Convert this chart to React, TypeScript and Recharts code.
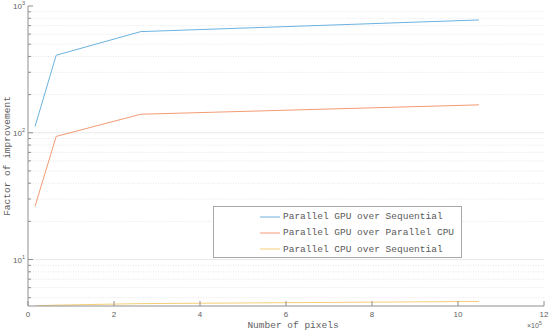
import { LineChart, Line, XAxis, YAxis, ReferenceLine, Legend } from 'recharts';

// image sizes: 128^2, 256^2, 512^2, 1024^2
const pixelCounts = [16384, 65536, 262144, 1048576];
const gpuOverSeq = [112, 409, 628, 776];
const gpuOverCpu = [26.3, 93.6, 140, 166];
const cpuOverSeq = [4.3, 4.37, 4.49, 4.67];

const xTicks = [0, 200000, 400000, 600000, 800000, 1000000, 1200000];
const yMajor = [10, 100, 1000];
const yMinor = [5, 6, 7, 8, 9, 20, 30, 40, 50, 60, 70, 80, 90, 200, 300, 400, 500, 600, 700, 800, 900];

const seriesNames = ['Parallel GPU over Sequential', 'Parallel GPU over Parallel CPU', 'Parallel CPU over Sequential'];
const seriesColors = ['#6cb2e0', '#f39b74', '#f6cf74'];

const data = pixelCounts.map((px, i) => ({
    px,
    gpuSeq: gpuOverSeq[i],
    gpuCpu: gpuOverCpu[i],
    cpuSeq: cpuOverSeq[i],
}));

const yMin = Math.min(...cpuOverSeq);

const sans = '"Liberation Sans", Arial, sans-serif';
const mono = '"Liberation Mono", "Courier New", monospace';
const axisColor = '#8f8f8f';
const textColor = '#5e5e5e';

const BottomTick = ({ x, y, payload }: any) => (
    <g>
        <line x1={x} x2={x} y1={y} y2={y - 5} stroke={axisColor} />
        <text x={x} y={y + 11} textAnchor="middle" fontSize={8} fontFamily={sans} fill={textColor}>
            {payload.value / 100000}
        </text>
    </g>
);

const TopTick = ({ x, y }: any) => (
    <line x1={x} x2={x} y1={y} y2={y + 5} stroke={axisColor} />
);

const LeftTick = ({ x, y, payload }: any) => {
    const major = yMajor.includes(payload.value);
    return (
        <g>
            <line x1={x} x2={x + (major ? 5 : 3)} y1={y} y2={y} stroke={axisColor} />
            {major && (
                <text x={x - 3} y={y + 3} textAnchor="end" fontSize={8} fontFamily={sans} fill={textColor}>
                    10
                    <tspan dy={-4} fontSize={5.5}>{Math.round(Math.log10(payload.value))}</tspan>
                </text>
            )}
        </g>
    );
};

const RightTick = ({ x, y, payload }: any) => {
    const major = yMajor.includes(payload.value);
    return <line x1={x} x2={x - (major ? 5 : 3)} y1={y} y2={y} stroke={axisColor} />;
};

const XLabel = ({ viewBox }: any) => {
    const { x, y, width } = viewBox;
    return (
        <g>
            <text x={x + width / 2 + 7} y={y + 22} textAnchor="middle" fontSize={9.5} fontFamily={mono} fill={textColor}>
                Number of pixels
            </text>
            <text x={x + width - 17} y={y + 22} fontSize={7} fontFamily={sans} fill={textColor}>
                ×10<tspan dy={-3} fontSize={5}>5</tspan>
            </text>
        </g>
    );
};

const YLabel = ({ viewBox }: any) => {
    const { y, height } = viewBox;
    const cx = 10;
    const cy = y + height / 2;
    return (
        <text x={cx} y={cy} transform={`rotate(-90, ${cx}, ${cy})`} textAnchor="middle" fontSize={9.5} fontFamily={mono} fill={textColor}>
            Factor of improvement
        </text>
    );
};

const LegendBox = ({ payload }: any) => {
    const items = [...(payload || [])].sort(
        (a: any, b: any) => seriesNames.indexOf(a.value) - seriesNames.indexOf(b.value)
    );
    return (
        <div
            style={{
                boxSizing: 'border-box',
                width: 249,
                height: 52,
                border: '1px solid #a8a8a8',
                background: '#fff',
                position: 'relative',
                fontFamily: mono,
                fontSize: 9.5,
                color: '#5a5a5a',
            }}
        >
            {items.map((entry: any, i: number) => (
                <div
                    key={entry.value}
                    style={{ position: 'absolute', left: 46, top: 3 + i * 16.4, height: 13, display: 'flex', alignItems: 'center' }}
                >
                    <svg width={20} height={2} style={{ display: 'block' }}>
                        <line x1={0} x2={20} y1={1} y2={1} stroke={entry.color} strokeWidth={1} />
                    </svg>
                    <span style={{ marginLeft: 3, whiteSpace: 'pre', lineHeight: '13px' }}>{entry.value}</span>
                </div>
            ))}
        </div>
    );
};

export default function App() {
    return (
        <div>
            <style>{'body{margin:0}'}</style>
            <LineChart width={550} height={333} data={data} margin={{ top: 6, right: 6, bottom: 0, left: 0 }}>
                {yMinor.map((v) => (
                    <ReferenceLine key={`m${v}`} y={v} stroke="#e6e6e6" strokeDasharray="1 1.5" />
                ))}
                {yMajor.slice(0, 2).map((v) => (
                    <ReferenceLine key={`M${v}`} y={v} stroke="#eaeaea" />
                ))}
                <XAxis
                    dataKey="px"
                    type="number"
                    domain={[0, 1200000]}
                    ticks={xTicks}
                    interval={0}
                    height={27}
                    tickSize={0}
                    tickMargin={0}
                    tickLine={false}
                    tick={<BottomTick />}
                    axisLine={{ stroke: axisColor }}
                    label={<XLabel />}
                />
                <XAxis
                    xAxisId="top"
                    orientation="top"
                    type="number"
                    domain={[0, 1200000]}
                    allowDataOverflow
                    ticks={xTicks}
                    interval={0}
                    height={0}
                    tickSize={0}
                    tickMargin={0}
                    tickLine={false}
                    tick={<TopTick />}
                    axisLine={{ stroke: axisColor }}
                />
                <YAxis
                    type="number"
                    scale="log"
                    domain={[yMin, 1000]}
                    allowDataOverflow
                    ticks={[...yMinor, ...yMajor]}
                    interval={0}
                    width={28}
                    tickSize={0}
                    tickMargin={0}
                    tickLine={false}
                    tick={<LeftTick />}
                    axisLine={{ stroke: axisColor }}
                    label={<YLabel />}
                />
                <YAxis
                    yAxisId="right"
                    orientation="right"
                    type="number"
                    scale="log"
                    domain={[yMin, 1000]}
                    allowDataOverflow
                    ticks={[...yMinor, ...yMajor]}
                    interval={0}
                    width={0}
                    tickSize={0}
                    tickMargin={0}
                    tickLine={false}
                    tick={<RightTick />}
                    axisLine={{ stroke: axisColor }}
                />
                <Line type="linear" dataKey="gpuSeq" name={seriesNames[0]} stroke={seriesColors[0]} strokeWidth={1} dot={false} isAnimationActive={false} />
                <Line type="linear" dataKey="gpuCpu" name={seriesNames[1]} stroke={seriesColors[1]} strokeWidth={1} dot={false} isAnimationActive={false} />
                <Line type="linear" dataKey="cpuSeq" name={seriesNames[2]} stroke={seriesColors[2]} strokeWidth={1} dot={false} isAnimationActive={false} />
                <Legend
                    layout="vertical"
                    align="center"
                    verticalAlign="middle"
                    content={<LegendBox />}
                    wrapperStyle={{ left: 213, top: 206, width: 249, height: 52 }}
                />
            </LineChart>
        </div>
    );
}
